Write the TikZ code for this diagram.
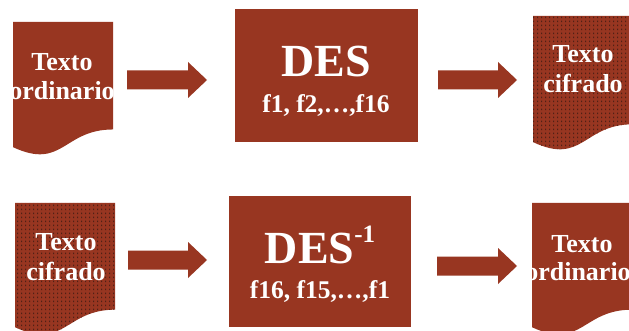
\documentclass[tikz,border=0pt]{standalone}
\usepackage{fontspec}
\setmainfont{Liberation Serif}
\usetikzlibrary{calc,patterns.meta}
\definecolor{docred}{RGB}{152,54,33}
\definecolor{dotcol}{RGB}{80,32,22}
\pgfdeclarepattern{
  name=cipherdots, type=uncolored,
  bottom left={\pgfpoint{0pt}{0pt}}, top right={\pgfpoint{4pt}{4pt}},
  tile size={\pgfpoint{4pt}{4pt}},
  code={\pgfpathrectangle{\pgfpoint{1.5pt}{1pt}}{\pgfpoint{1.1pt}{1.8pt}}\pgfusepath{fill}}}
% document outline: left x, top y, width, height (y grows downwards)
\newcommand{\docoutline}[4]{(#1,#2) -- ++(#3,0) -- ++(0,0.802*#4)
  .. controls ++(-0.5*#3,0) and ($(#1,#2)+(0.5*#3,1.1075*#4)$) .. ($(#1,#2)+(0,0.934*#4)$) -- cycle}
% block arrow between two named points
\newcommand{\blockarrow}[2]{\fill[docred] ($(#1)+(0,-9.5)$) -- ($(#2)+(-19,-9.5)$) -- ($(#2)+(-19,-18)$)
  -- (#2) -- ($(#2)+(-19,18)$) -- ($(#2)+(-19,9.5)$) -- ($(#1)+(0,9.5)$) -- cycle;}
\tikzset{
  doctext/.style={anchor=base, inner sep=0pt, text=white, font=\fontsize{26}{29}\selectfont\bfseries},
  boxtitle/.style={anchor=base, inner sep=0pt, text=white, font=\fontsize{46}{46}\selectfont\bfseries},
  boxsub/.style={anchor=base, inner sep=0pt, text=white, font=\fontsize{25.5}{25.5}\selectfont\bfseries},
}
\begin{document}
\begin{tikzpicture}[x=1pt,y=-1pt]
\useasboundingbox (0,0) rectangle (629,331);
\fill[white] (0,0) rectangle (629,331);

% top row: encryption
\fill[docred] \docoutline{13}{22}{100}{134};
\node[doctext] (plainA) at (62,71) {Texto};
\node[doctext] (plainAb) at (62,100) {ordinario};

\fill[docred] (235,9) rectangle (418,142);
\node[boxtitle] (des) at (326,77) {DES};
\node[boxsub] (desk) at (326,113) {f1, f2,\ldots,f16};

\fill[docred] \docoutline{533}{16}{100}{135};
\fill[pattern=cipherdots, pattern color=dotcol] \docoutline{533}{16}{100}{135};
\node[doctext] (cipherA) at (583,63) {Texto};
\node[doctext] (cipherAb) at (583,93) {cifrado};

\coordinate (a1s) at (127,80); \coordinate (a1e) at (207,80);
\coordinate (a2s) at (438,80); \coordinate (a2e) at (517,80);
\blockarrow{a1s}{a1e}
\blockarrow{a2s}{a2e}

% bottom row: decryption
\fill[docred] \docoutline{15}{203}{100}{133};
\fill[pattern=cipherdots, pattern color=dotcol] \docoutline{15}{203}{100}{133};
\node[doctext] (cipherB) at (66,250) {Texto};
\node[doctext] (cipherBb) at (66,280) {cifrado};

\fill[docred] (229,196) rectangle (411,327);
\node[boxtitle] (desinv) at (320,263) {DES\raisebox{21pt}{\fontsize{25}{25}\selectfont -1}};
\node[boxsub] (desinvk) at (320,298) {f16, f15,\ldots,f1};

\fill[docred] \docoutline{532}{203}{100}{133};
\node[doctext] (plainB) at (582,252) {Texto};
\node[doctext] (plainBb) at (578,280) {ordinario};

\coordinate (b1s) at (128,260); \coordinate (b1e) at (207,260);
\coordinate (b2s) at (437,266); \coordinate (b2e) at (517,266);
\blockarrow{b1s}{b1e}
\blockarrow{b2s}{b2e}
\end{tikzpicture}
\end{document}
